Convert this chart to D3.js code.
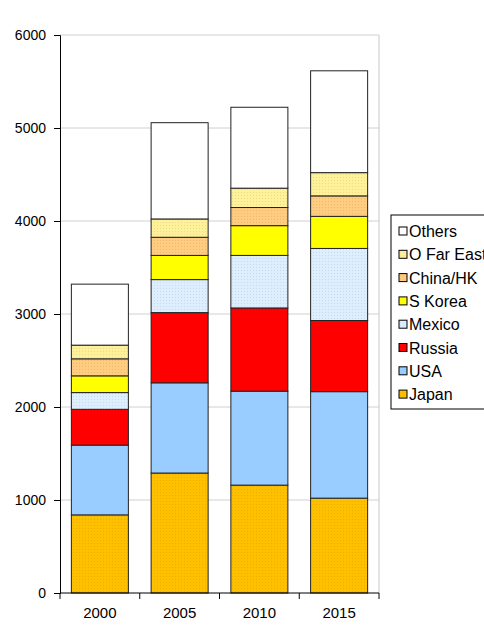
<!DOCTYPE html>
<head>
    <meta charset="utf-8">
    <style>
        body { margin: 0; background: #fff; }
        text { font-family: "Liberation Sans", Arial, sans-serif; fill: #000; }
    </style>
</head>
<body>
    <script src="https://d3js.org/d3.v7.min.js"></script>
    <script>

        // chart values
        var years = ["2000", "2005", "2010", "2015"];
        var countries = ["Japan", "USA", "Russia", "Mexico", "S Korea", "China/HK", "O Far East", "Others"];
        var japan     = [840, 1290, 1160, 1020];
        var usa       = [750, 970, 1010, 1145];
        var russia    = [385, 755, 895, 765];
        var mexico    = [180, 355, 565, 775];
        var sKorea    = [180, 260, 320, 345];
        var chinaHk   = [183, 195, 195, 220];
        var oFarEast  = [147, 197, 208, 250];
        var others    = [656, 1035, 870, 1095];
        var yTicks    = [0, 1000, 2000, 3000, 4000, 5000, 6000];

        var colors = ["#FFC000", "#99CCFF", "#FF0000", "#DDEEFF", "#FFFF00", "#FFCC80", "#FFF09A", "#FFFFFF"];
        var dots   = [true, false, false, true, false, true, true, false];

        var seriesValues = [japan, usa, russia, mexico, sKorea, chinaHk, oFarEast, others];

        // build table for d3.stack
        var table = years.map(function(y, i) {
            var row = {year: y};
            countries.forEach(function(c, j) { row[c] = seriesValues[j][i]; });
            return row;
        });

        var margin = {top: 35, left: 60},
            width = 319,
            height = 558;

        var svg = d3.select("body").append("svg")
            .attr("width", 484)
            .attr("height", 632);

        // dotted fill patterns
        var defs = svg.append("defs");
        colors.forEach(function(col, j) {
            if (!dots[j]) return;
            var p = defs.append("pattern")
                .attr("id", "pat" + j)
                .attr("width", 3).attr("height", 3)
                .attr("patternUnits", "userSpaceOnUse");
            p.append("rect").attr("width", 3).attr("height", 3).attr("fill", col);
            p.append("rect").attr("x", 1).attr("y", 1).attr("width", 1).attr("height", 1)
                .attr("fill", d3.color(col).darker(0.25));
        });
        function fillFor(j) { return dots[j] ? "url(#pat" + j + ")" : colors[j]; }

        var g = svg.append("g")
            .attr("transform", "translate(" + margin.left + "," + margin.top + ")");

        var x = d3.scaleBand().domain(years).range([0, width])
            .paddingInner(0.285).paddingOuter(0.1425);
        var y = d3.scaleLinear().domain([0, 6000]).range([height, 0]);

        // gridlines
        g.append("g")
            .selectAll("line")
            .data(yTicks.slice(1))
            .enter().append("line")
            .attr("x1", 0).attr("x2", width)
            .attr("y1", function(d) { return y(d); })
            .attr("y2", function(d) { return y(d); })
            .attr("stroke", "#d0d0d0");

        // plot area right border
        g.append("line")
            .attr("x1", width).attr("x2", width)
            .attr("y1", 0).attr("y2", height)
            .attr("stroke", "#c8c8c8");

        var stacked = d3.stack().keys(countries)(table);

        g.selectAll(".layer")
            .data(stacked)
            .enter().append("g")
            .attr("class", "layer")
            .attr("fill", function(d, j) { return fillFor(j); })
            .selectAll("rect")
            .data(function(d) { return d; })
            .enter().append("rect")
            .attr("x", function(d) { return x(d.data.year); })
            .attr("y", function(d) { return y(d[1]); })
            .attr("width", x.bandwidth())
            .attr("height", function(d) { return y(d[0]) - y(d[1]); })
            .attr("stroke", "#222")
            .attr("stroke-width", 1);

        // y axis
        var yAxis = g.append("g")
            .call(d3.axisLeft(y).tickValues(yTicks).tickSize(6).tickPadding(8).tickFormat(d3.format("d")));
        yAxis.selectAll("text").style("font-size", "14px").attr("fill", "#111");
        yAxis.select(".domain").attr("stroke", "#000");

        // x axis with ticks between categories
        var xAxis = g.append("g")
            .attr("transform", "translate(0," + height + ")");
        xAxis.append("line")
            .attr("x1", 0).attr("x2", width)
            .attr("stroke", "#000");
        var step = x.step();
        xAxis.selectAll(".tick")
            .data(d3.range(years.length + 1))
            .enter().append("line")
            .attr("x1", function(i) { return i * step; })
            .attr("x2", function(i) { return i * step; })
            .attr("y1", 0).attr("y2", 6)
            .attr("stroke", "#000");
        xAxis.selectAll("text")
            .data(years)
            .enter().append("text")
            .attr("x", function(d) { return x(d) + x.bandwidth() / 2; })
            .attr("y", 25)
            .attr("text-anchor", "middle")
            .style("font-size", "15px")
            .text(function(d) { return d; });

        // legend, top entry is Others
        var legend = svg.append("g").attr("transform", "translate(391,215)");
        legend.append("rect")
            .attr("width", 120).attr("height", 194)
            .attr("fill", "#fff").attr("stroke", "#000");
        var order = countries.slice().reverse();
        var item = legend.selectAll(".item")
            .data(order)
            .enter().append("g")
            .attr("transform", function(d, i) { return "translate(8," + (16 + i * 23.3) + ")"; });
        item.append("rect")
            .attr("x", 0).attr("y", -4)
            .attr("width", 8).attr("height", 8)
            .attr("fill", function(d) { return fillFor(countries.indexOf(d)); })
            .attr("stroke", "#000");
        item.append("text")
            .attr("x", 10).attr("y", 6)
            .style("font-size", "16px")
            .text(function(d) { return d; });

    </script>
</body>
